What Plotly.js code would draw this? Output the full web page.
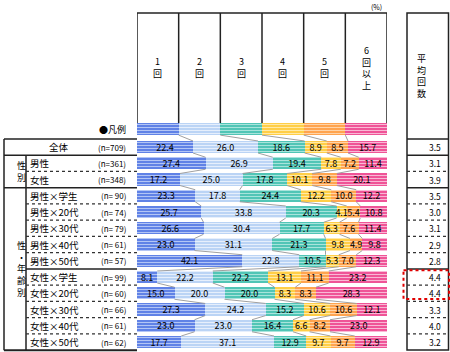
<!DOCTYPE html>
<html><head><meta charset="utf-8">
<script src="https://cdn.plot.ly/plotly-3.0.1.min.js"></script>
<style>html,body{margin:0;padding:0;background:#fff;}#chart{width:450px;height:352px;}</style>
</head><body><div id="chart"></div>
<script>
const rows = ['全体','男性','女性','男性×学生','男性×20代','男性×30代','男性×40代','男性×50代','女性×学生','女性×20代','女性×30代','女性×40代','女性×50代'];
const nLabels = ['(n=709)','(n=361)','(n=348)','(n=\u00a090)','(n=\u00a074)','(n=\u00a079)','(n=\u00a061)','(n=\u00a057)','(n=\u00a099)','(n=\u00a060)','(n=\u00a066)','(n=\u00a061)','(n=\u00a062)'];
const categories = ['1回','2回','3回','4回','5回','6回以上'];
const s1 = [22.4,27.4,17.2,23.3,25.7,26.6,23.0,42.1,8.1,15.0,27.3,23.0,17.7];
const s2 = [26.0,26.9,25.0,17.8,33.8,30.4,31.1,22.8,22.2,20.0,24.2,23.0,37.1];
const s3 = [18.6,19.4,17.8,24.4,20.3,17.7,21.3,10.5,22.2,20.0,15.2,16.4,12.9];
const s4 = [8.9,7.8,10.1,12.2,4.1,6.3,9.8,5.3,13.1,8.3,10.6,6.6,9.7];
const s5 = [8.5,7.2,9.8,10.0,5.4,7.6,4.9,7.0,11.1,8.3,10.6,8.2,9.7];
const s6 = [15.7,11.4,20.1,12.2,10.8,11.4,9.8,12.3,23.2,28.3,12.1,23.0,12.9];
const legendShare = [16.67,16.67,16.67,16.67,16.66,16.66];
const avgLabels = ['3.5','3.1','3.9','3.5','3.0','3.1','2.9','2.8','4.4','4.4','3.3','4.0','3.2'];
const series = [s1,s2,s3,s4,s5,s6];

const W = 450, H = 352;
const px = x => x / W;
const py = y => 1 - y / H;
const yi = p => (p - 147) / 16.25;   // pixel row -> y-axis units
const FONT = '"Noto Sans CJK JP", "Noto Sans", sans-serif';
const baseColors = ['#4f74e3','#b2cff4','#3fbfae','#ffc933','#ff9a3c','#ee3f8a'];
const stripeColors = ['#b3c5f5','#e6effc','#a8e4db','#ffeaa8','#ffd4a8','#f9b8d5'];
const BARH = 0.74;
const legendY = -1.1;
const rowY = rows.map((_, i) => i);
const yAll = [legendY].concat(rowY);

const traces = series.map((s, k) => ({
  type: 'bar', orientation: 'h', name: categories[k],
  x: [legendShare[k]].concat(s), y: yAll, width: BARH,
  text: [''].concat(s.map(v => v.toFixed(1))),
  textposition: 'inside', insidetextanchor: 'middle', constraintext: 'none', textangle: 0,
  insidetextfont: {family: FONT, size: 9, color: '#000'},
  marker: {color: baseColors[k], line: {width: 0},
    pattern: {shape: '-', fgcolor: stripeColors[k], bgcolor: baseColors[k], size: 3, solidity: 0.45, fillmode: 'replace'}},
  hoverinfo: 'skip', showlegend: false
}));

const allRows = [legendShare].concat(rows.map((_, i) => series.map(s => s[i])));
const cum = allRows.map(r => { let c = 0; return r.map(v => (c += v)); });
const cx = [], cy = [];
for (let i = 0; i < allRows.length - 1; i++) {
  for (let k = 0; k < 5; k++) {
    cx.push(cum[i][k], cum[i+1][k], null);
    cy.push(yAll[i] + BARH/2, yAll[i+1] - BARH/2, null);
  }
}
traces.push({type: 'scatter', mode: 'lines', x: cx, y: cy, line: {color: '#a0a0a0', width: 1}, hoverinfo: 'skip', showlegend: false});

const shapes = [];
const L = (x0, y0, x1, y1, opt) => shapes.push(Object.assign({type: 'line', x0, y0, x1, y1, line: {color: '#222', width: 1.5}}, opt || {}));
L(px(137), py(13), px(387), py(13), {xref: 'paper', yref: 'paper'});
for (let k = 0; k <= 6; k++) {
  L(k * 100 / 6, py(13), k * 100 / 6, py(123), {xref: 'x', yref: 'paper'});
}
shapes.push({type: 'rect', xref: 'paper', yref: 'paper', x0: px(407), x1: px(448.5), y0: py(13), y1: py(350), line: {color: '#222', width: 1.5}});
L(px(407), -0.5, px(448.5), -0.5, {xref: 'paper', yref: 'y'});
L(px(4), -0.5, px(137), -0.5, {xref: 'paper', yref: 'y'});
L(px(4), 12.5, px(137), 12.5, {xref: 'paper', yref: 'y', line: {color: '#222', width: 2}});
L(px(4), -0.5, px(4), 12.5, {xref: 'paper', yref: 'y'});
L(px(26), 0.5, px(26), 12.5, {xref: 'paper', yref: 'y'});
const sepType = ['full','dot','full','dot','dot','dot','dot','solid','dot','dot','dot','dot'];
sepType.forEach((t, i) => {
  const yb = i + 0.5;
  const xl = t === 'full' ? 4 : 26;
  const ln = t === 'dot' ? {color: '#333', width: 1.3, dash: 'dot'} : {color: '#222', width: 1.5};
  L(px(xl), yb, px(137), yb, {xref: 'paper', yref: 'y', line: ln});
  L(px(407), yb, px(448.5), yb, {xref: 'paper', yref: 'y', line: ln});
});
shapes.push({type: 'rect', xref: 'paper', yref: 'y', x0: px(403.5), x1: px(449), y0: 7.58, y1: 9.35, line: {color: '#e00000', width: 2, dash: 'dot'}});

const ann = [];
const A = (o) => ann.push(Object.assign({showarrow: false, font: {family: FONT, size: 9.5, color: '#000'}}, o));
categories.forEach((c, k) => A({xref: 'x', yref: 'y', x: (k + 0.5) * 100 / 6, y: yi(67.5), text: c.split('').join('<br>'), font: {family: FONT, size: 9, color: '#000'}}));
A({xref: 'paper', yref: 'y', x: px(428), y: yi(75.5), text: '平均回数'.split('').join('<br>'), font: {family: FONT, size: 9, color: '#000'}});
A({xref: 'paper', yref: 'y', x: px(384), xanchor: 'right', y: yi(7), text: '(%)', font: {family: FONT, size: 7, color: '#000'}});
A({xref: 'paper', yref: 'y', x: px(128), xanchor: 'right', y: legendY, text: '●凡例', font: {family: FONT, size: 9, color: '#000'}});
rows.forEach((r, i) => {
  if (i === 0) A({xref: 'paper', yref: 'y', x: px(47), y: i, text: r});
  else A({xref: 'paper', yref: 'y', x: px(28), xanchor: 'left', y: i, text: r});
  A({xref: 'paper', yref: 'y', x: px(128), xanchor: 'right', y: i, text: nLabels[i], font: {family: FONT, size: 8, color: '#000'}});
  A({xref: 'paper', yref: 'y', x: px(443), xanchor: 'right', y: i, text: avgLabels[i], font: {family: FONT, size: 8.5, color: '#000'}});
});
A({xref: 'paper', yref: 'y', x: px(15), y: 1.5, text: '性<br>別', font: {family: FONT, size: 9, color: '#000'}});
A({xref: 'paper', yref: 'y', x: px(15), y: 7.5, text: '性<br>・<br>年<br>齢<br>別', font: {family: FONT, size: 9, color: '#000'}});

const layout = {
  width: W, height: H, margin: {l: 0, r: 0, t: 0, b: 0, pad: 0},
  paper_bgcolor: '#fff', plot_bgcolor: 'rgba(0,0,0,0)',
  barmode: 'stack', showlegend: false,
  xaxis: {domain: [px(137), px(387)], range: [0, 100], visible: false, fixedrange: true},
  yaxis: {domain: [0, 1], range: [12.615, -9.046], visible: false, fixedrange: true},
  shapes, annotations: ann, font: {family: FONT}
};
Plotly.newPlot('chart', traces, layout, {staticPlot: true, displayModeBar: false});
</script></body></html>
